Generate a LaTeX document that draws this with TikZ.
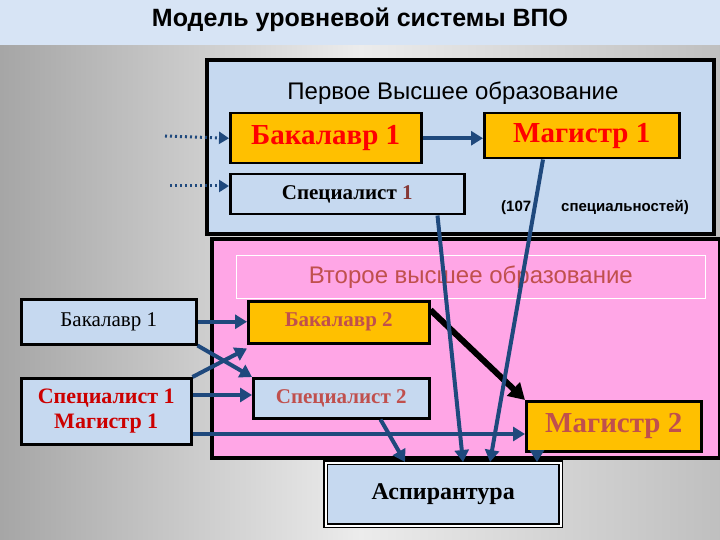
\documentclass[tikz,border=0pt]{standalone}
\usepackage{fontspec}
\setmainfont{Liberation Serif}
\newfontfamily\sans{Liberation Sans}
\usetikzlibrary{arrows.meta,shadows}
\definecolor{lb}{HTML}{C6D9F0}
\definecolor{org}{HTML}{FFC000}
\definecolor{pk}{HTML}{FFA6E6}
\definecolor{ab}{HTML}{1F497D}
\definecolor{rb}{HTML}{C0504D}
\begin{document}
\begin{tikzpicture}[x=1pt,y=-1pt,
  box/.style={draw=black,line width=2.5pt,minimum height=#1,inner sep=0pt},
  ar/.style={draw=ab,line width=4pt,-{Triangle[length=12pt,width=14pt]}},
  dt/.style={draw=ab,line width=3pt,dash pattern=on 2pt off 3pt,-{Triangle[length=10pt,width=12pt]}}]
\useasboundingbox (0,0) rectangle (720,540);
\shade[left color=gray!70,right color=gray!50,middle color=gray!15] (0,45) rectangle (720,540);
\fill[lb!70!white] (0,0) rectangle (720,45);
\node (title) at (360,20) {\sans\bfseries\fontsize{25}{28}\selectfont Модель уровневой системы ВПО};
\node[box=174pt,minimum width=507pt,fill=lb,line width=4pt,anchor=north west] (first) at (205,58) {};
\node (ft) at (453,93) {\sans\fontsize{24}{26}\selectfont Первое Высшее образование};
\node[box=50pt,minimum width=191pt,fill=org,anchor=north west,text=red] (b1) at (229,112) {\bfseries\fontsize{29}{30}\selectfont Бакалавр 1};
\node[box=45pt,minimum width=195pt,fill=org,anchor=north west,text=red] (m1) at (483,112) {\bfseries\fontsize{29}{30}\selectfont Магистр 1};
\node[box=40pt,minimum width=234pt,fill=lb,anchor=north west] (s1) at (229,173) {\bfseries\fontsize{21}{22}\selectfont Специалист \textcolor{rb!70!black}{1}};
\node (n107) at (595,207) {\sans\bfseries\fontsize{15}{17}\selectfont (107\quad\quad специальностей)};
\coordinate (d1) at (165,136); \coordinate (d2) at (170,186);
\draw[dt] (d1) -- (b1.west);
\draw[dt] (d2) -- (s1.west |- d2);
\draw[ar] (b1.east) -- (m1.west |- b1.east);
\node[box=219pt,minimum width=508pt,fill=pk,line width=4pt,anchor=north west] (second) at (210,237) {};
\node[draw=white,line width=0.6pt,minimum width=469pt,minimum height=43pt,anchor=north west,inner sep=0pt] (st) at (236,255) {\sans\fontsize{24}{26}\selectfont\textcolor{rb}{Второе высшее образование}};
\node[box=45pt,minimum width=175pt,fill=lb,anchor=north west,font=\fontsize{21}{22}\selectfont] (lb1) at (20,298) {Бакалавр 1};
\node[box=66pt,minimum width=170pt,fill=lb,anchor=north west,align=center,text=red!80!black,font=\bfseries\fontsize{22}{25}\selectfont] (ls1) at (20,377) {Специалист 1\\ Магистр 1};
\node[box=42pt,minimum width=181pt,fill=org,anchor=north west,text=rb,font=\bfseries\fontsize{21}{22}\selectfont] (b2) at (247,300) {Бакалавр 2};
\node[box=40pt,minimum width=176pt,fill=lb,anchor=north west,text=rb,font=\bfseries\fontsize{21}{22}\selectfont] (s2) at (252,377) {Специалист 2};
\node[box=50pt,minimum width=175pt,fill=org,anchor=north west,text=rb,font=\bfseries\fontsize{29}{30}\selectfont] (m2) at (525,400) {Магистр 2};
\node[box=63pt,minimum width=235pt,fill=lb,anchor=north west,double,double distance=2pt,line width=1.5pt,font=\bfseries\fontsize{24}{26}\selectfont] (asp) at (325,462) {Аспирантура};
\draw[ar] (lb1.east) -- (b2.west |- lb1.east);
\draw[ar] (lb1.south east) -- (s2.north west);
\draw[ar] (ls1.north east) -- ([yshift=-4pt]b2.south west);
\draw[ar] ([yshift=-18pt]ls1.north east) -- (s2.west |- {(0,395)});
\draw[ar] (ls1.east |- {(0,434)}) -- (m2.west |- {(0,434)});
\draw[draw=black,line width=6pt,-{Triangle[length=16pt,width=18pt]}] ([yshift=-10pt]b2.north east) -- (m2.north west);
\draw[ar] ([xshift=-50pt]s2.south east) -- (asp.north west -| {(405,0)});
\draw[ar] ([xshift=-28pt]s1.south east) -- (asp.north west -| {(463,0)});
\draw[ar] ([xshift=60pt]m1.south west) -- (asp.north west -| {(490,0)});
\draw[ar] ([xshift=12pt]m2.south west) -- (asp.north west -| {(537,0)});
\end{tikzpicture}
\end{document}
